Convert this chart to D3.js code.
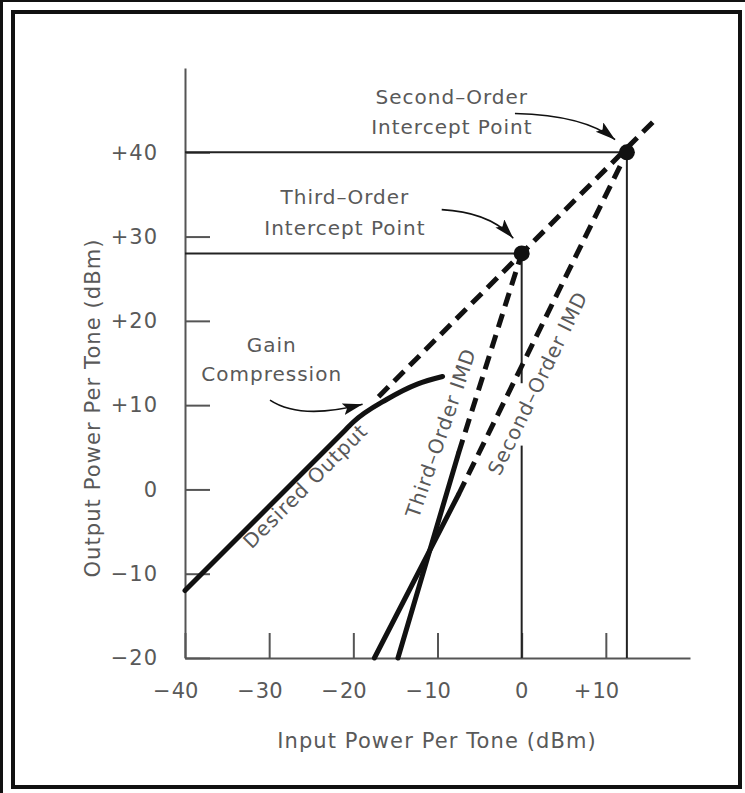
<!DOCTYPE html>
<html>
<head>
<meta charset="utf-8">
<script src="https://cdn.jsdelivr.net/npm/d3@7"></script>
<style>
  html, body { margin: 0; padding: 0; background: #fff; }
  svg text { font-family: "DejaVu Sans", "Liberation Sans", sans-serif; fill: #595959; }
</style>
</head>
<body>
<svg id="chart" width="745" height="793"></svg>
<script>
// ---------- data ----------
const xTicks = [-40, -30, -20, -10, 0, 10];
const xTickLabels = ["\u221240", "\u221230", "\u221220", "\u221210", "0", "+10"];
const yTicks = [-20, -10, 0, 10, 20, 30, 40];
const yTickLabels = ["\u221220", "\u221210", "0", "+10", "+20", "+30", "+40"];

// Desired output (fundamental), input dBm -> output dBm
const desiredOutput = [[-40, -12], [-21, 7], [-20, 8], [-16, 10.7], [-12.4, 12.5], [-9.4, 13.4]];
const desiredExtrapolated = [[-17, 11], [16.2, 44.2]];
// Third-order IMD
const thirdOrderMeasured = [[-14.7, -20], [-7.5, 4.3]];
const thirdOrderExtrapolated = [[-7.5, 4.3], [0, 28]];
// Second-order IMD
const secondOrderMeasured = [[-17.5, -20], [-7.5, -0.6]];
const secondOrderExtrapolated = [[-7.5, -0.6], [12.5, 40]];
// Intercept points
const thirdOrderIntercept = [0, 28];
const secondOrderIntercept = [12.5, 40];
// gap in the third-order drop line (where a label crosses it)
const thirdDropSegments = [[28, 12.6], [5.2, -20]];

// annotation labels [text lines, x, y, rotation]
const annotations = [
  { lines: ["Second\u2013Order", "Intercept Point"], x: -8.3, y: [46.6, 43.0], rot: 0 },
  { lines: ["Third\u2013Order", "Intercept Point"], x: -21.0, y: [34.7, 31.0], rot: 0 },
  { lines: ["Gain", "Compression"], x: -29.7, y: [17.1, 13.7], rot: 0 },
  { lines: ["Desired Output"], x: -25.7, y: [0.4], rot: -45 },
  { lines: ["Third\u2013Order IMD"], x: -9.6, y: [6.7], rot: -71 },
  { lines: ["Second\u2013Order IMD"], x: 1.9, y: [12.6], rot: -64 }
];
// annotation arrows: start, control, tip (data units)
const arrows = [
  [[-0.8, 44.6], [7.5, 44.4], [11.1, 41.5]],
  [[-9.5, 33.2], [-3.8, 32.9], [-1.0, 29.8]],
  [[-29.9, 10.6], [-26.3, 8.2], [-18.9, 10.1]]
];

// ---------- drawing ----------
const svg = d3.select("#chart");
const W = 745, H = 793;

// frame
svg.append("rect").attr("x", 0).attr("y", 0).attr("width", 3).attr("height", H).attr("fill", "#111");
svg.append("rect").attr("x", 0).attr("y", 0).attr("width", W).attr("height", 2).attr("fill", "#111");
svg.append("rect").attr("x", 13).attr("y", 12).attr("width", 727).attr("height", 775)
  .attr("fill", "none").attr("stroke", "#111").attr("stroke-width", 4);

const x = d3.scaleLinear().domain([-40, 20]).range([185, 690]);
const y = d3.scaleLinear().domain([-20, 50]).range([658, 68]);

const axisColor = "#555";

// x axis (labels added separately so the digits sit centred on the tick)
const gx = svg.append("g").attr("transform", `translate(0,${y(-20)})`)
  .call(d3.axisBottom(x).tickValues(xTicks).tickFormat("")
    .tickSizeInner(-25).tickSizeOuter(0));
// y axis
const gy = svg.append("g").attr("transform", `translate(${x(-40)},0)`)
  .call(d3.axisLeft(y).tickValues(yTicks).tickFormat((d, i) => yTickLabels[i])
    .tickSizeInner(-25).tickSizeOuter(0).tickPadding(27));

[gx, gy].forEach(g => {
  g.select(".domain").attr("stroke", axisColor).attr("stroke-width", 2);
  g.selectAll(".tick line").attr("stroke", axisColor).attr("stroke-width", 2);
});
gy.selectAll(".tick text").attr("font-size", 21).attr("fill", "#595959")
  .style("font-family", "DejaVu Sans, sans-serif").attr("letter-spacing", 1);

// x tick labels: digits centred on the tick, sign hanging to the left
xTicks.forEach((v, i) => {
  const lab = xTickLabels[i];
  const hasSign = /^[+\u2212]/.test(lab);
  const digits = hasSign ? lab.slice(1) : lab;
  const t = svg.append("text").attr("x", x(v)).attr("y", y(-20) + 33)
    .attr("text-anchor", "middle").attr("dominant-baseline", "central")
    .attr("font-size", 21).text(digits);
  if (hasSign) {
    const w = t.node().getComputedTextLength();
    svg.append("text").attr("x", x(v) - w / 2 - 1).attr("y", y(-20) + 33)
      .attr("text-anchor", "end").attr("dominant-baseline", "central")
      .attr("font-size", 21).text(lab[0]);
  }
});

// axis titles
svg.append("text").attr("x", 437).attr("y", 741).attr("text-anchor", "middle")
  .attr("dominant-baseline", "central").attr("font-size", 21).attr("letter-spacing", 1.1)
  .text("Input Power Per Tone (dBm)");
svg.append("text").attr("transform", "translate(93,408) rotate(-90)").attr("text-anchor", "middle")
  .attr("dominant-baseline", "central").attr("font-size", 21).attr("letter-spacing", 1.1)
  .text("Output Power Per Tone (dBm)");

// reference lines to intercept points
const thin = "#222";
[thirdOrderIntercept, secondOrderIntercept].forEach(p => {
  svg.append("line").attr("x1", x(-40)).attr("x2", x(p[0])).attr("y1", y(p[1])).attr("y2", y(p[1]))
    .attr("stroke", thin).attr("stroke-width", 2);
});
svg.append("line").attr("x1", x(secondOrderIntercept[0])).attr("x2", x(secondOrderIntercept[0]))
  .attr("y1", y(secondOrderIntercept[1])).attr("y2", y(-20)).attr("stroke", thin).attr("stroke-width", 2);
thirdDropSegments.forEach(s => {
  svg.append("line").attr("x1", x(thirdOrderIntercept[0])).attr("x2", x(thirdOrderIntercept[0]))
    .attr("y1", y(s[0])).attr("y2", y(s[1])).attr("stroke", thin).attr("stroke-width", 2);
});

const line = d3.line().x(d => x(d[0])).y(d => y(d[1]));
const curved = d3.line().x(d => x(d[0])).y(d => y(d[1])).curve(d3.curveMonotoneX);

const ink = "#111";
function solid(data, gen) {
  svg.append("path").datum(data).attr("d", gen || line).attr("fill", "none")
    .attr("stroke", ink).attr("stroke-width", 5).attr("stroke-linecap", "round").attr("stroke-linejoin", "round");
}
function dashed(data) {
  svg.append("path").datum(data).attr("d", line).attr("fill", "none")
    .attr("stroke", ink).attr("stroke-width", 5).attr("stroke-dasharray", "14,8");
}
dashed(desiredExtrapolated);
dashed(thirdOrderExtrapolated);
dashed(secondOrderExtrapolated);
solid(desiredOutput, curved);
solid(thirdOrderMeasured);
solid(secondOrderMeasured);

// intercept dots
[thirdOrderIntercept, secondOrderIntercept].forEach(p => {
  svg.append("circle").attr("cx", x(p[0])).attr("cy", y(p[1])).attr("r", 8).attr("fill", ink);
});

// arrows
const defs = svg.append("defs");
defs.append("marker").attr("id", "ah").attr("markerUnits", "userSpaceOnUse")
  .attr("markerWidth", 24).attr("markerHeight", 16).attr("refX", 20).attr("refY", 6)
  .attr("orient", "auto")
  .append("path").attr("d", "M0,0 L20,6 L0,12 L4,6 Z").attr("fill", ink);
arrows.forEach(a => {
  const p = a.map(d => [x(d[0]), y(d[1])]);
  svg.append("path").attr("d", `M${p[0][0]},${p[0][1]} Q${p[1][0]},${p[1][1]} ${p[2][0]},${p[2][1]}`)
    .attr("fill", "none").attr("stroke", ink).attr("stroke-width", 1.6).attr("marker-end", "url(#ah)");
});

// annotation text
annotations.forEach(a => {
  a.lines.forEach((t, i) => {
    const px = x(a.x), py = y(a.y[i]);
    svg.append("text").attr("transform", `translate(${px},${py}) rotate(${a.rot})`)
      .attr("text-anchor", "middle").attr("dominant-baseline", "central")
      .attr("font-size", 20).attr("letter-spacing", 1).text(t);
  });
});
</script>
</body>
</html>
